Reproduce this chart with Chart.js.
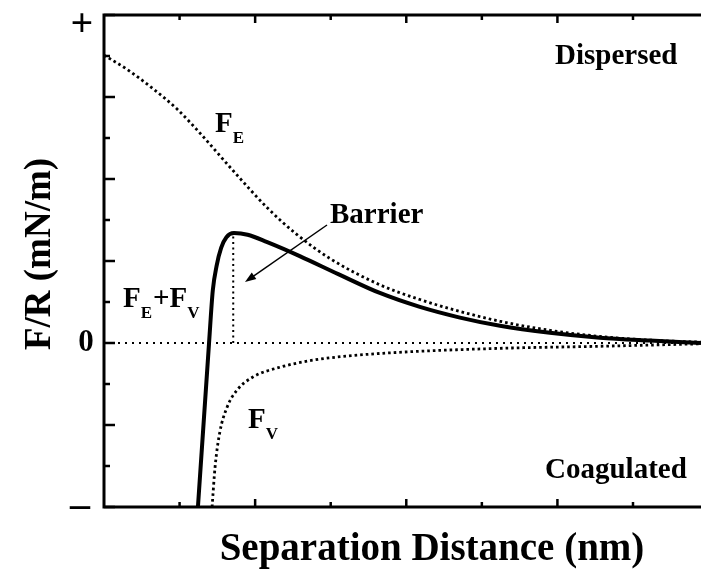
<!DOCTYPE html>
<html>
<head>
<meta charset="utf-8">
<script src="https://cdn.jsdelivr.net/npm/chart.js@4.4.0/dist/chart.umd.min.js"></script>
<style>
  html, body { margin: 0; padding: 0; background: #fff; }
  #wrap { width: 701px; height: 574px; position: relative; }
</style>
</head>
<body>
<div id="wrap"><canvas id="myChart"></canvas></div>
<script>
  // separation distance (arbitrary units, one unit per x tick) and force (one unit per y tick)
  const feDist = [0, 0.3, 0.65, 0.97, 1.27, 1.71, 2.16, 2.55, 3.0, 3.65, 4.18, 4.71, 5.24, 5.9, 6.56, 7.22, 7.9];
  const feForce = [7.02, 6.68, 6.2, 5.7, 5.12, 4.2, 3.3, 2.65, 2.05, 1.42, 1.06, 0.77, 0.53, 0.31, 0.16, 0.07, 0.02];

  const fvDist = [1.43, 1.47, 1.53, 1.63, 1.76, 1.97, 2.33, 2.76, 3.21, 3.88, 5.24, 6.56, 7.9];
  const fvForce = [-4.0, -3.02, -2.2, -1.56, -1.15, -0.83, -0.59, -0.42, -0.32, -0.23, -0.13, -0.08, -0.02];

  const totDist = [1.243, 1.39, 1.44, 1.49, 1.55, 1.62, 1.72, 1.9, 2.16, 2.59, 3.1, 3.65, 4.18, 4.71, 5.24, 5.9, 6.56, 7.22, 7.9];
  const totForce = [-4.0, 0, 1.29, 1.88, 2.32, 2.58, 2.68, 2.64, 2.46, 2.12, 1.68, 1.22, 0.88, 0.62, 0.42, 0.25, 0.13, 0.06, 0.0];

  const barrierDist = [1.71, 1.71];
  const barrierForce = [0, 2.68];

  const zeroDist = [0, 7.9];
  const zeroForce = [0, 0];

  // tick values and the few labels that are printed
  const xTicks = [0, 1, 2, 3, 4, 5, 6, 7];
  const yTicks = [-4, -3, -2, -1, 0, 1, 2, 3, 4, 5, 6, 7, 8];
  const yTickLabels = { '8': '+', '0': '0', '-4': '\u2013' };

  const pts = (xs, ys) => xs.map((x, i) => ({ x: x, y: ys[i] }));
  const serif = '"Liberation Serif", "Times New Roman", serif';

  const frame = {
    id: 'frame',
    afterDatasetsDraw(chart) {
      const c = chart.ctx;
      const a = chart.chartArea;
      const xs = chart.scales.x, ys = chart.scales.y;
      c.save();
      c.strokeStyle = '#000';
      c.fillStyle = '#000';
      c.lineWidth = 3;
      c.lineCap = 'butt';
      c.beginPath();
      c.moveTo(a.right + 2, a.top); c.lineTo(a.left, a.top);
      c.lineTo(a.left, a.bottom); c.lineTo(a.right + 2, a.bottom);
      c.stroke();

      // inward ticks
      c.lineWidth = 2.5;
      yTicks.forEach(v => {
        const py = ys.getPixelForValue(v);
        const len = v % 2 === 0 ? 11 : 6;
        c.beginPath(); c.moveTo(a.left, py); c.lineTo(a.left + len, py); c.stroke();
      });
      xTicks.forEach(v => {
        if (v === 0) return;
        const px = xs.getPixelForValue(v);
        const len = v % 2 === 0 ? 8 : 5;
        c.beginPath(); c.moveTo(px, a.bottom); c.lineTo(px, a.bottom - len); c.stroke();
        c.beginPath(); c.moveTo(px, a.top); c.lineTo(px, a.top + len); c.stroke();
      });

      // y tick labels
      c.textAlign = 'center';
      c.textBaseline = 'middle';
      c.font = 'bold 40px ' + serif;
      c.fillText(yTickLabels['8'], 82, ys.getPixelForValue(8) + 11);
      c.font = 'bold 31px ' + serif;
      c.fillText(yTickLabels['0'], 86, ys.getPixelForValue(0));
      c.font = 'bold 40px ' + serif;
      c.fillText(yTickLabels['-4'], 80, ys.getPixelForValue(-4));

      // axis titles
      c.textBaseline = 'alphabetic';
      c.font = 'bold 39px ' + serif;
      c.fillText('Separation Distance (nm)', 432, 560);
      c.font = 'bold 37px ' + serif;
      c.save();
      c.translate(50, 254);
      c.rotate(-Math.PI / 2);
      c.fillText('F/R (mN/m)', 0, 0);
      c.restore();

      // annotations
      c.textAlign = 'left';
      const sub = (parts, x, y) => {
        parts.forEach(p => {
          c.font = p.s ? 'bold 17px ' + serif : 'bold 29px ' + serif;
          c.fillText(p.t, x, p.s ? y + 11 : y);
          x += c.measureText(p.t).width + (p.s ? 1 : 0);
        });
      };
      sub([{ t: 'F' }, { t: 'E', s: 1 }], 215, 132);
      sub([{ t: 'F' }, { t: 'E', s: 1 }, { t: '+F' }, { t: 'V', s: 1 }], 123, 307);
      sub([{ t: 'F' }, { t: 'V', s: 1 }], 248, 428);
      c.font = 'bold 29px ' + serif;
      c.fillText('Barrier', 330, 223);
      c.fillText('Dispersed', 555, 64);
      c.fillText('Coagulated', 545, 478);

      // arrow to the barrier
      const x1 = 327, y1 = 225, x2 = 245, y2 = 282;
      const ang = Math.atan2(y2 - y1, x2 - x1);
      c.lineWidth = 1.5;
      c.beginPath(); c.moveTo(x1, y1); c.lineTo(x2 - 6 * Math.cos(ang), y2 - 6 * Math.sin(ang)); c.stroke();
      c.beginPath();
      c.moveTo(x2, y2);
      c.lineTo(x2 - 11 * Math.cos(ang) + 4 * Math.sin(ang), y2 - 11 * Math.sin(ang) - 4 * Math.cos(ang));
      c.lineTo(x2 - 11 * Math.cos(ang) - 4 * Math.sin(ang), y2 - 11 * Math.sin(ang) + 4 * Math.cos(ang));
      c.closePath(); c.fill();
      c.restore();
    }
  };

  const dotted = (w, dash) => ({
    borderColor: '#000', borderWidth: w, borderDash: dash, borderCapStyle: 'butt',
    pointRadius: 0, fill: false
  });

  const ctx = document.getElementById('myChart').getContext('2d');
  const myChart = new Chart(ctx, {
    type: 'line',
    data: {
      datasets: [
        Object.assign({ label: 'zero', data: pts(zeroDist, zeroForce) }, dotted(2, [2, 5])),
        Object.assign({ label: 'barrier', data: pts(barrierDist, barrierForce) }, dotted(2, [2, 3.5])),
        Object.assign({ label: 'FE', data: pts(feDist, feForce), cubicInterpolationMode: 'monotone' }, dotted(2.8, [2.6, 3])),
        Object.assign({ label: 'FV', data: pts(fvDist, fvForce), cubicInterpolationMode: 'monotone' }, dotted(2.8, [2.6, 3])),
        {
          label: 'FE+FV', data: pts(totDist, totForce), cubicInterpolationMode: 'monotone',
          borderColor: '#000', borderWidth: 4, pointRadius: 0, fill: false
        }
      ]
    },
    options: {
      responsive: true,
      maintainAspectRatio: false,
      animation: false,
      layout: { padding: { left: 104, top: 15, right: 0, bottom: 67 } },
      plugins: { legend: { display: false }, tooltip: { enabled: false } },
      scales: {
        x: { type: 'linear', min: 0, max: 7.9, display: false },
        y: { type: 'linear', min: -4, max: 8, display: false }
      }
    },
    plugins: [frame]
  });
</script>
</body>
</html>
